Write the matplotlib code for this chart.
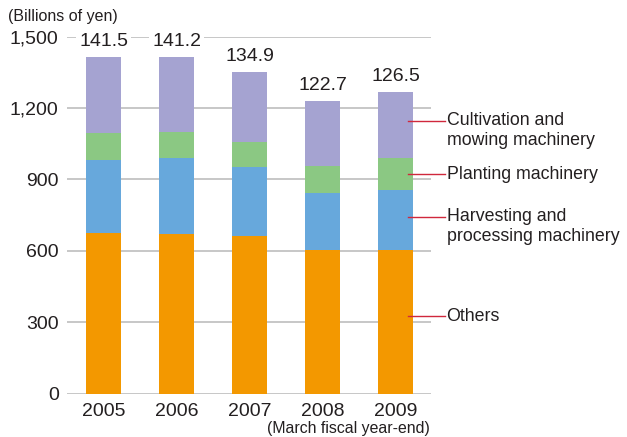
import matplotlib
matplotlib.use("Agg")
import matplotlib.pyplot as plt
import numpy as np

plt.rcParams['font.family'] = ['Liberation Sans', 'DejaVu Sans']

years = ["2005", "2006", "2007", "2008", "2009"]
others = [674, 671, 663, 604, 604]
harvesting = [308, 319, 288, 239, 252]
planting = [113, 110, 107, 114, 134]
cultivation = [320, 312, 291, 270, 275]
totals = ["141.5", "141.2", "134.9", "122.7", "126.5"]

series_names = ["Others", "Harvesting and\nprocessing machinery", "Planting machinery",
                "Cultivation and\nmowing machinery"]
series_vals = [others, harvesting, planting, cultivation]
colors = ["#f39800", "#67a8dc", "#8bc883", "#a5a3d1"]
label_y = [325, 742, 922, 1146]

fig = plt.figure(figsize=(6.27, 4.37), dpi=100)
ax = fig.add_axes([67/627, 43.5/437, 364/627, 357/437])

x = np.arange(len(years))
bottom = np.zeros(len(years))
for vals, c in zip(series_vals, colors):
    ax.bar(x, vals, bottom=bottom, width=0.48, color=c, zorder=2)
    bottom += np.array(vals)

for xi, top, lab in zip(x, bottom, totals):
    ax.text(xi, top + 30, lab, ha='center', va='bottom', fontsize=14, color='#231f20',
            bbox=dict(facecolor='white', edgecolor='none', pad=2), zorder=3, clip_on=False)

ax.set_xlim(-0.5, 4.486)
ax.set_ylim(0, 1500)
ax.set_yticks([0, 300, 600, 900, 1200, 1500])
ax.set_yticklabels([f"{v:,}" for v in [0, 300, 600, 900, 1200, 1500]])
ax.set_xticks(x)
ax.set_xticklabels(years)
ax.tick_params(axis='both', length=0, labelsize=14, colors='#231f20')
ax.tick_params(axis='y', pad=6)
ax.tick_params(axis='x', pad=7)
ax.yaxis.grid(True, color='#bdbdbd', linewidth=1.2, zorder=0)
ax.set_axisbelow(True)
for s in ax.spines.values():
    s.set_visible(False)

xs = len(years) - 1
for name, ly in zip(series_names, label_y):
    ax.plot([xs + 0.17, xs + 0.68], [ly, ly], color='#d0283c', linewidth=1, zorder=4, clip_on=False)
    for i, line in enumerate(name.split("\n")):
        ax.annotate(line, xy=(xs + 0.70, ly), xytext=(0, -14.4 * i), textcoords='offset points',
                    ha='left', va='center', fontsize=12.8, color='#231f20', annotation_clip=False)

fig.text(8/627, 1 - 17/437, "(Billions of yen)", ha='left', va='center', fontsize=11.5, color='#231f20')
fig.text(430/627, 1 - 429/437, "(March fiscal year-end)", ha='right', va='center', fontsize=11.4, color='#231f20')

fig.savefig("out.png", dpi=100)
